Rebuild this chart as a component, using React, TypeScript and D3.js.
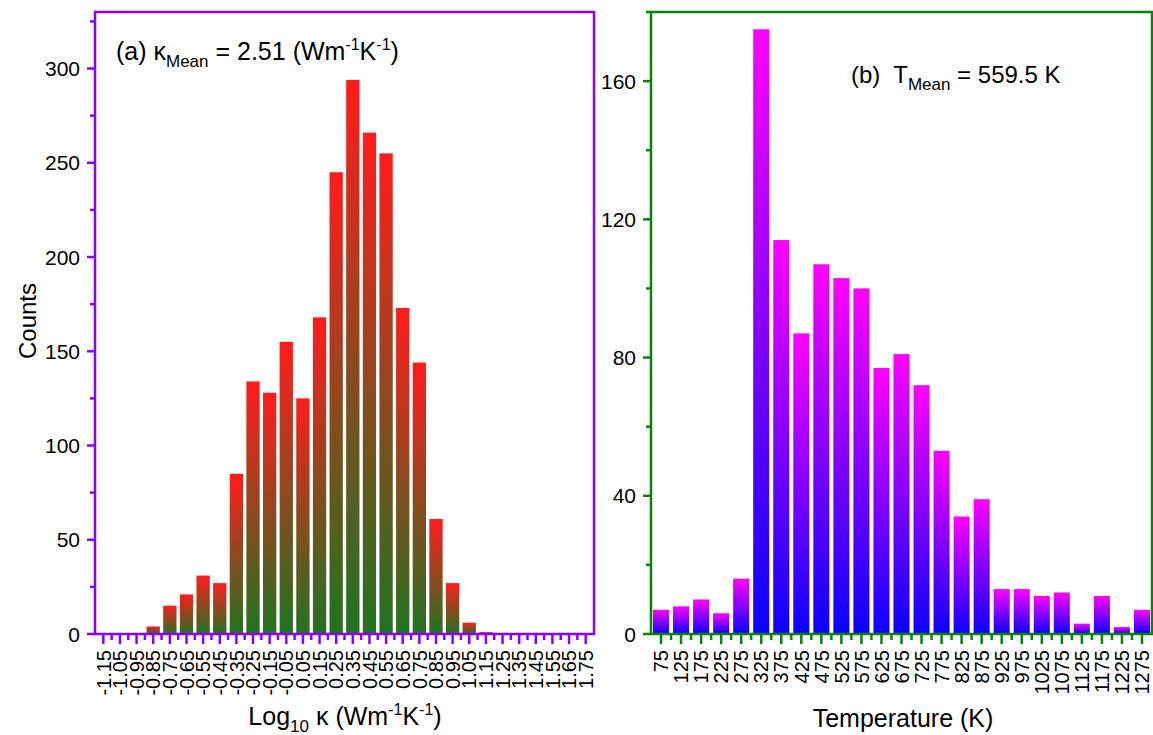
import React from 'react';
import * as d3 from 'd3';

// panel (a): log10 kappa histogram
const kappaBins = [-1.15, -1.05, -0.95, -0.85, -0.75, -0.65, -0.55, -0.45, -0.35, -0.25, -0.15, -0.05, 0.05, 0.15, 0.25, 0.35, 0.45, 0.55, 0.65, 0.75, 0.85, 0.95, 1.05, 1.15, 1.25, 1.35, 1.45, 1.55, 1.65, 1.75];
const kappaCounts = [0, 0, 0, 4, 15, 21, 31, 27, 85, 134, 128, 155, 125, 168, 245, 294, 266, 255, 173, 144, 61, 27, 6, 1, 0, 0, 0, 0, 0, 0];
const kappaTicks = [0, 50, 100, 150, 200, 250, 300];

// panel (b): temperature histogram
const tempBins = [75, 125, 175, 225, 275, 325, 375, 425, 475, 525, 575, 625, 675, 725, 775, 825, 875, 925, 975, 1025, 1075, 1125, 1175, 1225, 1275];
const tempCounts = [7, 8, 10, 6, 16, 175, 114, 87, 107, 103, 100, 77, 81, 72, 53, 34, 39, 13, 13, 11, 12, 3, 11, 2, 7];
const tempTicks = [0, 40, 80, 120, 160];

const FONT = 'Liberation Sans, Arial, sans-serif';
const TOP = 12;
const BOTTOM = 634;

type PanelProps = {
  left: number;
  right: number;
  xDomain: [number, number];
  yMax: number;
  bins: number[];
  counts: number[];
  barW: number;
  yTicks: number[];
  yMinorStep: number;
  xMinor: number[];
  fmt: (v: number) => string;
  color: string;
  grad: string;
};

const Panel = (p: PanelProps) => {
  const x = d3.scaleLinear().domain(p.xDomain).range([p.left, p.right]);
  const y = d3.scaleLinear().domain([0, p.yMax]).range([BOTTOM, TOP]);
  const yMinor = d3.range(0, p.yMax + 0.001, p.yMinorStep).filter(v => !p.yTicks.includes(v));
  return (
    <g>
      {p.bins.map((b, i) => p.counts[i] > 0 && (
        <rect key={i} x={x(b - p.barW / 2)} y={y(p.counts[i])}
          width={x(b + p.barW / 2) - x(b - p.barW / 2)} height={y(0) - y(p.counts[i])}
          fill={`url(#${p.grad})`} />
      ))}
      <rect x={p.left} y={TOP} width={p.right - p.left} height={BOTTOM - TOP}
        fill="none" stroke={p.color} strokeWidth={2.5} />
      {p.yTicks.map(t => (
        <g key={t}>
          <line x1={p.left - 8} x2={p.left} y1={y(t)} y2={y(t)} stroke={p.color} strokeWidth={2.5} />
          <text x={p.left - 15} y={y(t)} dy="0.36em" textAnchor="end" fontSize={21} fontFamily={FONT}>{t}</text>
        </g>
      ))}
      {yMinor.map(t => (
        <line key={t} x1={p.left - 5} x2={p.left} y1={y(t)} y2={y(t)} stroke={p.color} strokeWidth={2.5} />
      ))}
      {p.bins.map(b => (
        <g key={b}>
          <line x1={x(b)} x2={x(b)} y1={BOTTOM} y2={BOTTOM + 10} stroke={p.color} strokeWidth={2.5} />
          <text transform={`translate(${x(b)},${BOTTOM + 16}) rotate(-90)`} dy="0.36em"
            textAnchor="end" fontSize={20} fontFamily={FONT}>{p.fmt(b)}</text>
        </g>
      ))}
      {p.xMinor.map(b => (
        <line key={b} x1={x(b)} x2={x(b)} y1={BOTTOM} y2={BOTTOM + 6} stroke={p.color} strokeWidth={2.5} />
      ))}
    </g>
  );
};

const App = () => {
  const kMinor = d3.range(-11, 18).map(v => v / 10);
  const tMinor = d3.range(100, 1300, 50);
  const kFmt = (v: number) => d3.format('.2f')(v).replace('\u2212', '-');
  return (
    <svg width={1153} height={735} style={{ position: 'absolute', left: 0, top: 0, background: '#fff' }}>
      <defs>
        <linearGradient id="gradA" x1="0" y1="0" x2="0" y2="1">
          <stop offset="0" stopColor="#ff1c1c" />
          <stop offset="1" stopColor="#217321" />
        </linearGradient>
        <linearGradient id="gradB" x1="0" y1="0" x2="0" y2="1">
          <stop offset="0" stopColor="#ff00ff" />
          <stop offset="1" stopColor="#0a00ff" />
        </linearGradient>
      </defs>
      <Panel left={95} right={594} xDomain={[-1.2, 1.8]} yMax={330} bins={kappaBins} counts={kappaCounts}
        barW={0.08} yTicks={kappaTicks} yMinorStep={25} xMinor={kMinor} fmt={kFmt}
        color="#8b00ff" grad="gradA" />
      <Panel left={651} right={1152} xDomain={[50, 1300]} yMax={180} bins={tempBins} counts={tempCounts}
        barW={40} yTicks={tempTicks} yMinorStep={20} xMinor={tMinor} fmt={d => String(d)}
        color="#0a820a" grad="gradB" />

      <text x={116} y={60} fontSize={25} fontFamily={FONT}>
        (a) κ<tspan fontSize={17} dy={7}>Mean</tspan><tspan dy={-7}> = 2.51 (Wm</tspan>
        <tspan fontSize={16} dy={-10}>-1</tspan><tspan dy={10}>K</tspan><tspan fontSize={16} dy={-10}>-1</tspan><tspan dy={10}>)</tspan>
      </text>
      <text x={851} y={83} fontSize={24} fontFamily={FONT}>
        {'(b)\u00a0 T'}<tspan fontSize={17} dy={7}>Mean</tspan><tspan dy={-7}> = 559.5 K</tspan>
      </text>

      <text transform="translate(36,321) rotate(-90)" textAnchor="middle" fontSize={24} fontFamily={FONT}>Counts</text>
      <text x={345} y={725} textAnchor="middle" fontSize={25} fontFamily={FONT}>
        Log<tspan fontSize={17} dy={7}>10</tspan><tspan dy={-7}> κ (Wm</tspan>
        <tspan fontSize={16} dy={-10}>-1</tspan><tspan dy={10}>K</tspan><tspan fontSize={16} dy={-10}>-1</tspan><tspan dy={10}>)</tspan>
      </text>
      <text x={903} y={727} textAnchor="middle" fontSize={25} fontFamily={FONT}>Temperature (K)</text>
    </svg>
  );
};

export default App;
